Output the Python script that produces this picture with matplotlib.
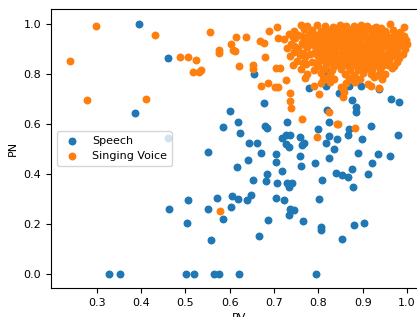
import numpy as np
import matplotlib
matplotlib.use("Agg")
import matplotlib.pyplot as plt

# speech points (PV, PN)
speech_pv = [0.396, 0.461, 0.387, 0.460, 0.551, 0.462, 0.507, 0.504, 0.557,
             0.328, 0.353, 0.502, 0.519, 0.565, 0.576, 0.621, 0.794,
             0.655, 0.677, 0.600, 0.586, 0.618, 0.623, 0.644, 0.661, 0.641,
             0.616, 0.653, 0.671, 0.679, 0.685, 0.684, 0.682, 0.572, 0.552,
             0.606, 0.618, 0.603, 0.584, 0.648, 0.638, 0.667, 0.687, 0.705,
             0.704, 0.707, 0.704, 0.722, 0.718, 0.717, 0.726, 0.730, 0.728,
             0.733, 0.737, 0.730, 0.733, 0.740, 0.733, 0.737, 0.745, 0.758,
             0.758, 0.764, 0.768, 0.761, 0.765, 0.779, 0.793, 0.800, 0.802,
             0.809, 0.805, 0.807, 0.815, 0.817, 0.820, 0.824, 0.818, 0.824,
             0.824, 0.836, 0.840, 0.843, 0.846, 0.854, 0.866, 0.854, 0.869,
             0.875, 0.867, 0.870, 0.884, 0.884, 0.887, 0.897, 0.875, 0.878,
             0.880, 0.890, 0.899, 0.903, 0.918, 0.920, 0.913, 0.936, 0.935,
             0.963, 0.961, 0.981, 0.980]
speech_pn = [1.000, 0.864, 0.642, 0.543, 0.487, 0.260, 0.296, 0.204, 0.135,
             0.0, 0.0, 0.0, 0.0, 0.0, 0.0, 0.0, 0.0,
             0.800, 0.682, 0.651, 0.586, 0.606, 0.562, 0.525, 0.525, 0.453,
             0.426, 0.375, 0.481, 0.591, 0.582, 0.399, 0.370, 0.302, 0.259,
             0.310, 0.299, 0.268, 0.219, 0.315, 0.295, 0.152, 0.216, 0.478,
             0.446, 0.363, 0.304, 0.294, 0.410, 0.545, 0.555, 0.606, 0.519,
             0.507, 0.555, 0.364, 0.347, 0.364, 0.234, 0.259, 0.256, 0.549,
             0.469, 0.514, 0.525, 0.430, 0.211, 0.745, 0.442, 0.578, 0.300,
             0.374, 0.188, 0.174, 0.812, 0.753, 0.657, 0.609, 0.522, 0.553,
             0.462, 0.499, 0.402, 0.541, 0.725, 0.393, 0.386, 0.140, 0.750,
             0.697, 0.555, 0.579, 0.669, 0.649, 0.780, 0.753, 0.418, 0.348,
             0.195, 0.483, 0.538, 0.202, 0.593, 0.442, 0.397, 0.738, 0.478,
             0.700, 0.469, 0.688, 0.555]

# singing voice points: scattered ones first, then the dense block row by row
sing_pv = [0.240, 0.279, 0.298, 0.412, 0.432, 0.489, 0.507, 0.525, 0.518,
           0.530, 0.536, 0.555, 0.576, 0.577, 0.602, 0.608, 0.612, 0.615,
           0.636, 0.621, 0.653, 0.653, 0.668, 0.678, 0.680, 0.688, 0.671,
           0.687, 0.702, 0.708, 0.706, 0.710, 0.704, 0.714, 0.726, 0.736,
           0.737, 0.738, 0.764, 0.797, 0.802, 0.791, 0.823, 0.841, 0.845,
           0.882, 0.579, 0.856, 0.937, 0.918, 0.913, 0.851, 0.858, 0.855,
           0.880, 0.810, 0.826, 0.993,
           # 0.990
           0.760, 0.775, 0.797, 0.815, 0.832, 0.848, 0.862, 0.880, 0.896,
           0.910, 0.930, 0.961,
           # 0.982
           0.842, 0.858, 0.875, 0.892, 0.911, 0.925, 0.942,
           # 0.975
           0.745, 0.768, 0.785, 0.805, 0.822, 0.838, 0.853, 0.870, 0.887,
           0.903, 0.918, 0.935, 0.950, 0.968, 0.985,
           # 0.958
           0.733, 0.755, 0.778, 0.795, 0.812, 0.828, 0.843, 0.858, 0.874,
           0.890, 0.905, 0.921, 0.938, 0.953, 0.970, 0.992,
           # 0.948
           0.742, 0.762, 0.782, 0.802, 0.818, 0.833, 0.848, 0.864, 0.879,
           0.893, 0.909, 0.925, 0.940, 0.956, 0.972, 0.985,
           # 0.940
           0.722, 0.748, 0.770, 0.790, 0.806, 0.820, 0.836, 0.851, 0.866,
           0.882, 0.897, 0.913, 0.928, 0.944, 0.960, 0.975, 0.998,
           # 0.922
           0.738, 0.762, 0.783, 0.800, 0.815, 0.830, 0.845, 0.860, 0.876,
           0.891, 0.907, 0.922, 0.937, 0.952, 0.967, 0.983, 1.000,
           # 0.913
           0.745, 0.770, 0.792, 0.808, 0.822, 0.838, 0.852, 0.868, 0.883,
           0.898, 0.913, 0.929, 0.944, 0.959, 0.974, 0.990,
           # 0.905
           0.730, 0.755, 0.775, 0.795, 0.810, 0.825, 0.840, 0.856, 0.871,
           0.886, 0.901, 0.916, 0.931, 0.946, 0.962, 0.978, 0.995,
           # 0.888
           0.745, 0.766, 0.790, 0.806, 0.820, 0.835, 0.850, 0.865, 0.880,
           0.895, 0.910, 0.925, 0.940, 0.956, 0.972, 0.990,
           # 0.878
           0.758, 0.782, 0.812, 0.828, 0.842, 0.858, 0.872, 0.887, 0.902,
           0.917, 0.932, 0.947, 0.962, 0.977,
           # 0.870
           0.735, 0.770, 0.800, 0.815, 0.830, 0.845, 0.860, 0.875, 0.890,
           0.905, 0.920, 0.935, 0.950, 0.965, 0.982,
           # 0.852
           0.752, 0.785, 0.808, 0.825, 0.840, 0.855, 0.870, 0.885, 0.900,
           0.915, 0.930, 0.945, 0.960, 0.978,
           # 0.843
           0.765, 0.795, 0.832, 0.847, 0.862, 0.877, 0.892, 0.908, 0.922,
           0.937, 0.952,
           # 0.835
           0.742, 0.772, 0.800, 0.818, 0.835, 0.850, 0.866, 0.882, 0.897,
           0.912, 0.927, 0.943, 0.958, 0.970,
           # 0.818
           0.760, 0.790, 0.812, 0.830, 0.852, 0.872, 0.890, 0.905, 0.922,
           0.940, 0.965,
           # 0.800
           0.775, 0.805, 0.826, 0.860, 0.880, 0.900, 0.918, 0.935, 0.950,
           # 0.782
           0.770, 0.815, 0.836, 0.868, 0.895, 0.925, 0.943,
           # 0.765
           0.806, 0.826, 0.862, 0.882]
sing_pn = [0.850, 0.697, 0.991, 0.701, 0.956, 0.869, 0.869, 0.854, 0.806,
           0.806, 0.817, 0.969, 0.896, 0.883, 0.919, 0.895, 0.892, 0.947,
           0.947, 0.833, 0.837, 0.821, 0.931, 0.923, 0.869, 0.971, 0.750,
           0.765, 0.746, 0.749, 0.989, 0.943, 0.825, 0.825, 0.774, 0.724,
           0.693, 0.662, 0.621, 0.546, 0.720, 0.753, 0.648, 0.601, 0.598,
           0.585, 0.250, 0.742, 0.742, 0.753, 0.760, 0.746, 0.728, 0.708,
           0.772, 0.780, 0.780, 0.987,
           0.995, 0.990, 0.996, 0.992, 0.988, 0.996, 0.993, 0.990, 0.995,
           0.991, 0.989, 0.998,
           0.982, 0.984, 0.980, 0.983, 0.981, 0.985, 0.982,
           0.972, 0.978, 0.975, 0.970, 0.976, 0.979, 0.972, 0.977, 0.974,
           0.970, 0.978, 0.975, 0.971, 0.977, 0.968,
           0.958, 0.955, 0.961, 0.956, 0.960, 0.954, 0.959, 0.962, 0.955,
           0.958, 0.953, 0.960, 0.956, 0.961, 0.957, 0.952,
           0.949, 0.951, 0.946, 0.948, 0.946, 0.950, 0.947, 0.949, 0.945,
           0.951, 0.948, 0.946, 0.950, 0.947, 0.949, 0.944,
           0.940, 0.943, 0.937, 0.941, 0.938, 0.944, 0.939, 0.942, 0.936,
           0.941, 0.945, 0.938, 0.942, 0.937, 0.943, 0.939, 0.935,
           0.920, 0.924, 0.921, 0.925, 0.919, 0.923, 0.926, 0.920, 0.922,
           0.925, 0.918, 0.923, 0.921, 0.926, 0.920, 0.924, 0.921,
           0.912, 0.915, 0.913, 0.911, 0.915, 0.912, 0.914, 0.910, 0.916,
           0.912, 0.914, 0.911, 0.915, 0.913, 0.910, 0.912,
           0.905, 0.902, 0.907, 0.904, 0.908, 0.903, 0.906, 0.901, 0.905,
           0.909, 0.903, 0.906, 0.902, 0.907, 0.904, 0.900, 0.898,
           0.888, 0.884, 0.885, 0.890, 0.886, 0.889, 0.884, 0.891, 0.887,
           0.885, 0.890, 0.886, 0.889, 0.884, 0.887, 0.880,
           0.877, 0.879, 0.876, 0.880, 0.877, 0.879, 0.875, 0.881, 0.878,
           0.876, 0.880, 0.877, 0.879, 0.874,
           0.870, 0.866, 0.872, 0.868, 0.871, 0.867, 0.873, 0.869, 0.866,
           0.871, 0.868, 0.872, 0.867, 0.870, 0.865,
           0.852, 0.849, 0.855, 0.851, 0.854, 0.850, 0.853, 0.848, 0.855,
           0.851, 0.849, 0.853, 0.850, 0.848,
           0.842, 0.845, 0.843, 0.841, 0.845, 0.842, 0.844, 0.840, 0.846,
           0.842, 0.844,
           0.835, 0.838, 0.832, 0.836, 0.833, 0.837, 0.831, 0.835, 0.838,
           0.833, 0.836, 0.832, 0.834, 0.830,
           0.818, 0.815, 0.820, 0.816, 0.819, 0.814, 0.817, 0.821, 0.815,
           0.818, 0.822,
           0.800, 0.803, 0.798, 0.801, 0.797, 0.802, 0.799, 0.796, 0.801,
           0.782, 0.785, 0.780, 0.784, 0.779, 0.786, 0.781,
           0.765, 0.768, 0.762, 0.766]

plt.rcParams['font.family'] = ['DejaVu Sans']

fig = plt.figure(figsize=(4.17, 3.17), dpi=100)
ax = fig.add_axes([51/417, 29/317, 376/417, 279/317])

ax.scatter(speech_pv, speech_pn, s=22, color='#1f77b4', label='Speech')
ax.scatter(sing_pv, sing_pn, s=22, color='#ff7f0e', label='Singing Voice')

ax.set_xlim(0.197, 1.045)
ax.set_ylim(-0.058, 1.06)
ax.set_xticks([0.3, 0.4, 0.5, 0.6, 0.7, 0.8, 0.9, 1.0])
ax.set_yticks([0.0, 0.2, 0.4, 0.6, 0.8, 1.0])
ax.tick_params(labelsize=8)
ax.set_xlabel('PV', fontsize=8)
ax.set_ylabel('PN', fontsize=8)
ax.legend(loc='center left', fontsize=8)

fig.savefig('out.png', dpi=100)
